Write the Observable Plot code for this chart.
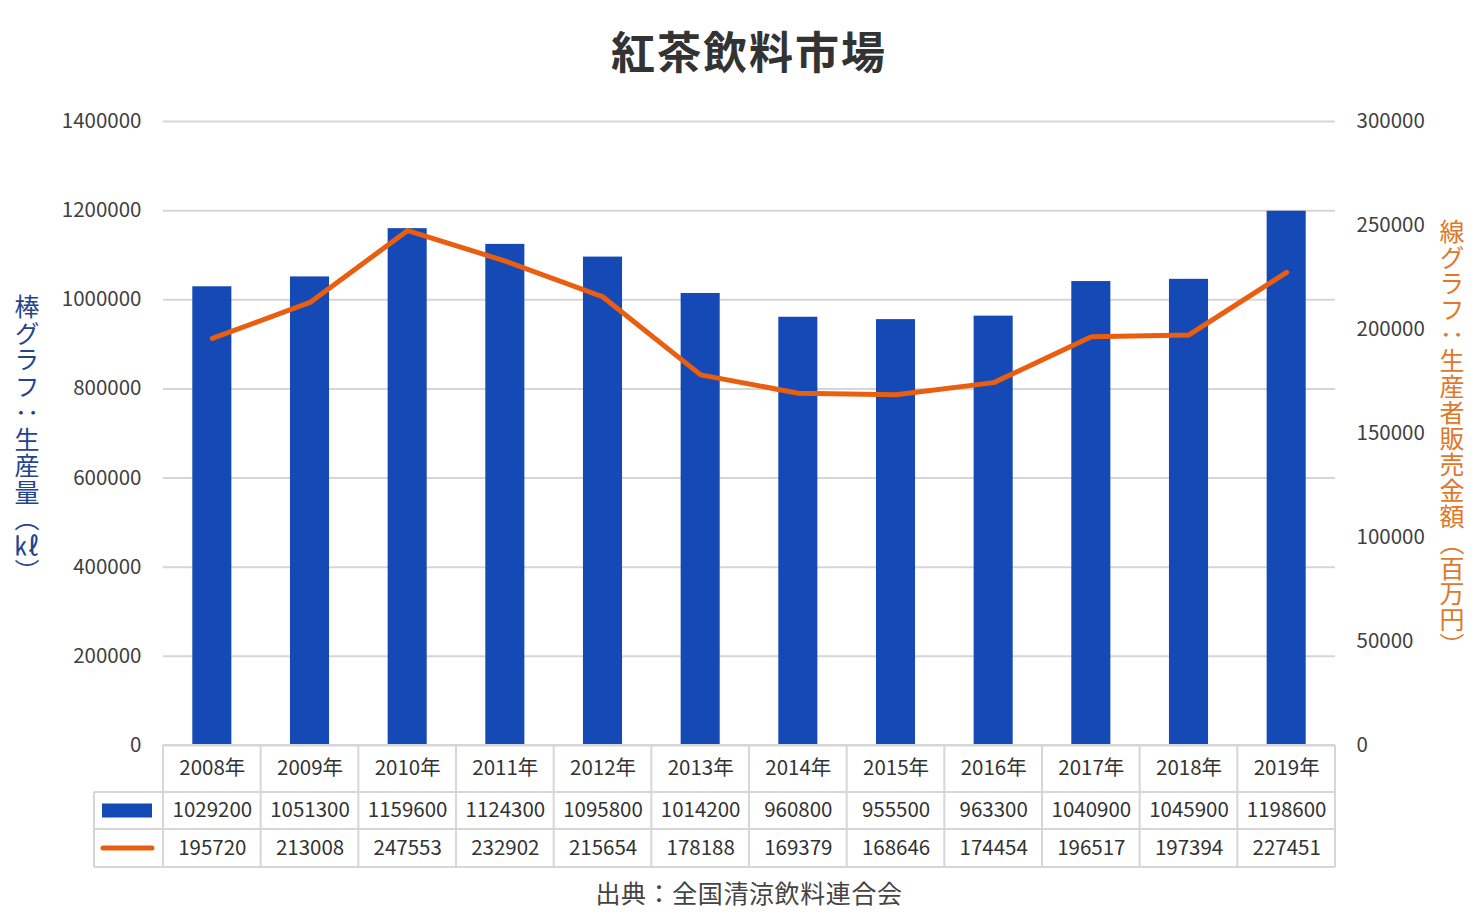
<!DOCTYPE html>
<html lang="ja">
<head>
<meta charset="utf-8">
<script src="https://cdn.jsdelivr.net/npm/d3@7"></script>
<script src="https://cdn.jsdelivr.net/npm/@observablehq/plot@0.6"></script>
<style>
  html, body { margin: 0; padding: 0; background: #fff; }
  body { width: 1478px; height: 916px; position: relative; overflow: hidden; font-family: "Noto Sans CJK JP", "Noto Sans", sans-serif; }
  #chart { position: absolute; left: 0; top: 0; }
  .title { position: absolute; left: 10px; width: 1478px; top: 24px; text-align: center; font-size: 44px; font-weight: bold; color: #333; line-height: 52px; letter-spacing: 2px; }
  .caption { position: absolute; left: 10px; width: 1478px; top: 875px; text-align: center; font-size: 25px; color: #444; line-height: 34px; letter-spacing: 0.6px; }
  .vlabel { position: absolute; writing-mode: vertical-rl; font-size: 25px; line-height: 30px; transform: translate(-50%, -50%); white-space: nowrap; }
</style>
</head>
<body>
<div id="chart"></div>
<div class="title">紅茶飲料市場</div>
<div class="vlabel" style="left:27px; top:440px; color:#23448f; letter-spacing:1.5px;">棒グラフ：生産量（㎘）</div>
<div class="vlabel" style="left:1452px; top:439px; color:#e0782a; letter-spacing:0.9px;">線グラフ：生産者販売金額（百万円）</div>
<div class="caption">出典：全国清涼飲料連合会</div>
<script>
const years = ["2008","2009","2010","2011","2012","2013","2014","2015","2016","2017","2018","2019"];
const production = [1029200,1051300,1159600,1124300,1095800,1014200,960800,955500,963300,1040900,1045900,1198600];
const sales = [195720,213008,247553,232902,215654,178188,169379,168646,174454,196517,197394,227451];
const leftTicks = [0,200000,400000,600000,800000,1000000,1200000,1400000];
const rightTicks = [0,50000,100000,150000,200000,250000,300000];

const leftMax = 1400000, rightMax = 300000;
const k = leftMax / rightMax;
const barColor = "#1549b5";
const lineColor = "#e95e0f";
const gridColor = "#d6d6d6";
const textSize = 20.5;

const table = years.map((y, i) => ({year: y, production: production[i], sales: sales[i]}));

function tableGrid(index, scales, values, dimensions) {
  const {width, height, marginLeft, marginRight, marginBottom} = dimensions;
  const x0 = marginLeft, x1 = width - marginRight;
  const step = (x1 - x0) / years.length;
  const yTop = height - marginBottom;
  const r1 = yTop + 47, r2 = yTop + 84, r3 = yTop + 122;
  const legendLeft = 94;
  const g = d3.create("svg:g").attr("stroke", gridColor).attr("stroke-width", 2).attr("fill", "none");
  g.append("line").attr("x1", x0).attr("x2", x1).attr("y1", yTop).attr("y2", yTop);
  for (const y of [r1, r2, r3]) {
    g.append("line").attr("x1", legendLeft).attr("x2", x1).attr("y1", y).attr("y2", y);
  }
  for (let i = 0; i <= years.length; i++) {
    const x = x0 + i * step;
    g.append("line").attr("x1", x).attr("x2", x).attr("y1", yTop).attr("y2", r3);
  }
  g.append("line").attr("x1", legendLeft).attr("x2", legendLeft).attr("y1", r1).attr("y2", r3);
  g.append("rect").attr("x", 102).attr("y", (r1 + r2) / 2 - 7).attr("width", 50).attr("height", 14)
    .attr("fill", barColor).attr("stroke", "none");
  g.append("line").attr("x1", 103).attr("x2", 152).attr("y1", (r2 + r3) / 2).attr("y2", (r2 + r3) / 2)
    .attr("stroke", lineColor).attr("stroke-width", 5).attr("stroke-linecap", "round");
  return g.node();
}

const plot = Plot.plot({
  width: 1478,
  height: 916,
  marginTop: 121,
  marginBottom: 171,
  marginLeft: 163,
  marginRight: 143,
  x: {domain: years, paddingInner: 0.6, paddingOuter: 0.3, round: false, axis: null},
  y: {domain: [0, leftMax], axis: null},
  style: {fontFamily: "'Noto Sans CJK JP', 'Noto Sans', sans-serif", fontSize: textSize + "px", color: "#404040", background: "transparent"},
  marks: [
    Plot.gridY(leftTicks, {stroke: gridColor, strokeOpacity: 1, strokeWidth: 2}),
    Plot.axisY(leftTicks, {anchor: "left", tickSize: 0, tickPadding: 22, label: null, fontSize: textSize, fill: "#404040", tickFormat: d => String(d)}),
    Plot.axisY(rightTicks.map(v => v * k), {anchor: "right", tickSize: 0, tickPadding: 21, label: null, fontSize: textSize, fill: "#404040", tickFormat: d => String(Math.round(d / k))}),
    Plot.barY(table, {x: "year", y: "production", fill: barColor}),
    Plot.line(table, {x: "year", y: d => d.sales * k, stroke: lineColor, strokeWidth: 5, strokeLinecap: "round", strokeLinejoin: "round"}),
    tableGrid,
    Plot.text(table, {x: "year", frameAnchor: "bottom", dy: 29, text: d => d.year + "年", fontSize: textSize, fill: "#333"}),
    Plot.text(table, {x: "year", frameAnchor: "bottom", dy: 71, text: d => String(d.production), fontSize: textSize, fill: "#333"}),
    Plot.text(table, {x: "year", frameAnchor: "bottom", dy: 109, text: d => String(d.sales), fontSize: textSize, fill: "#333"})
  ]
});
document.getElementById("chart").appendChild(plot);
</script>
</body>
</html>
